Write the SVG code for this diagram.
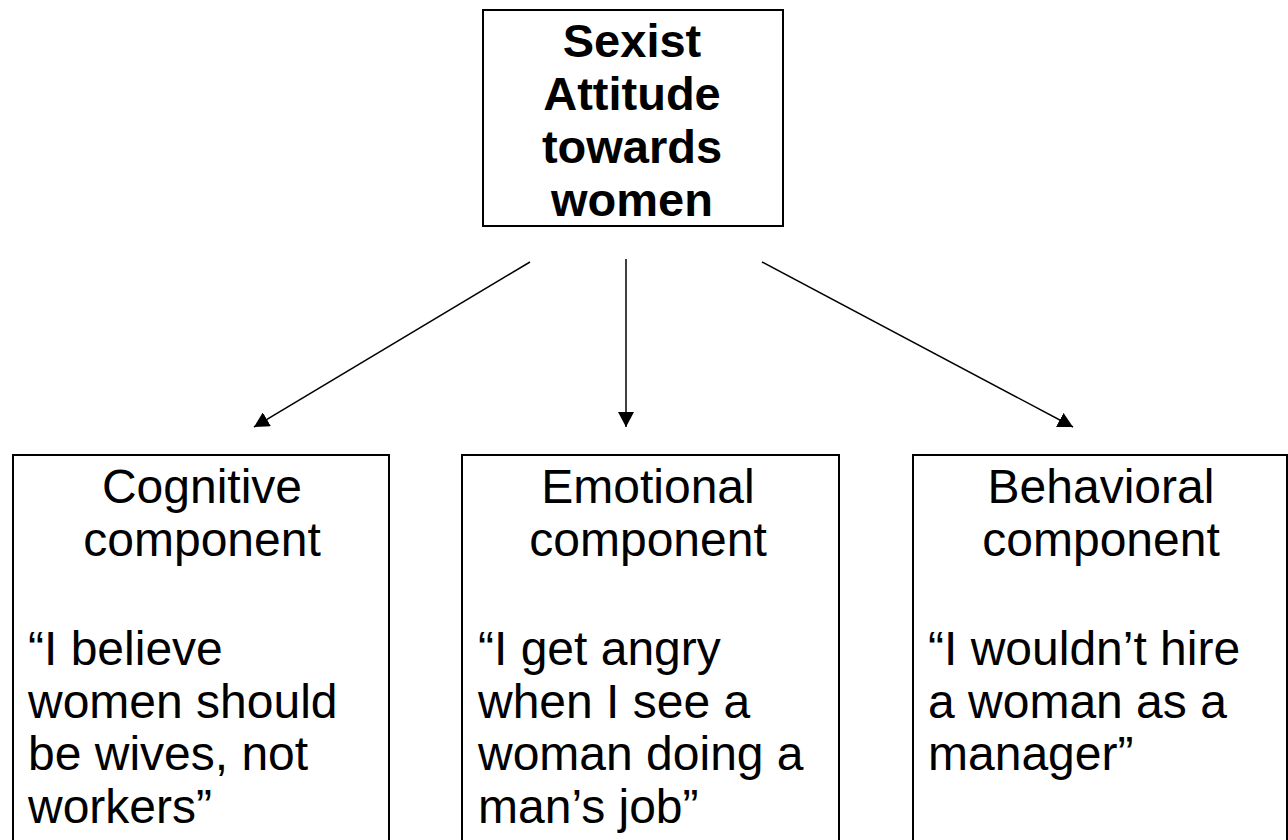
<svg xmlns="http://www.w3.org/2000/svg" width="1288" height="840" viewBox="0 0 1288 840">
<style>
.box{fill:#fff;stroke:#000;stroke-width:2}
.t{font-family:"Liberation Sans",Arial,sans-serif;font-size:48px;fill:#000}
.b{font-weight:bold;font-size:47px}
.c{text-anchor:middle}
.conn{stroke:#000;stroke-width:1.5;fill:none}
</style>
<defs>
<marker id="ah" markerUnits="userSpaceOnUse" markerWidth="16" markerHeight="16" refX="15" refY="8" orient="auto" viewBox="0 0 16 16">
<path d="M0,0 L15,8 L0,16 z" fill="#000"/>
</marker>
</defs>
<rect width="1288" height="840" fill="#fff"/>
<g id="top">
<rect class="box" x="483" y="10" width="300" height="216"/>
<text class="t b c"><tspan x="632" y="57">Sexist</tspan><tspan x="632" y="110">Attitude</tspan><tspan x="632" y="163">towards</tspan><tspan x="632" y="216">women</tspan></text>
</g>
<g id="cognitive">
<rect class="box" x="13" y="455" width="376" height="400"/>
<text class="t c"><tspan x="202" y="503">Cognitive</tspan><tspan x="202" y="556">component</tspan></text>
<text class="t"><tspan x="28" y="665">“I believe</tspan><tspan x="28" y="718">women should</tspan><tspan x="28" y="770">be wives, not</tspan><tspan x="28" y="823">workers”</tspan></text>
</g>
<g id="emotional">
<rect class="box" x="462" y="455" width="377" height="400"/>
<text class="t c"><tspan x="648" y="503">Emotional</tspan><tspan x="648" y="556">component</tspan></text>
<text class="t"><tspan x="478" y="665">“I get angry</tspan><tspan x="478" y="718">when I see a</tspan><tspan x="478" y="770">woman doing a</tspan><tspan x="478" y="823">man’s job”</tspan></text>
</g>
<g id="behavioral">
<rect class="box" x="913" y="455" width="374" height="400"/>
<text class="t c"><tspan x="1101" y="503">Behavioral</tspan><tspan x="1101" y="556">component</tspan></text>
<text class="t"><tspan x="928" y="665">“I wouldn’t hire</tspan><tspan x="928" y="718">a woman as a</tspan><tspan x="928" y="770">manager”</tspan></text>
</g>
<g id="connectors">
<line class="conn" x1="530" y1="262" x2="254" y2="427" marker-end="url(#ah)"/>
<line class="conn" x1="626" y1="259" x2="626" y2="427" marker-end="url(#ah)"/>
<line class="conn" x1="762" y1="262" x2="1073" y2="427" marker-end="url(#ah)"/>
</g>
</svg>
